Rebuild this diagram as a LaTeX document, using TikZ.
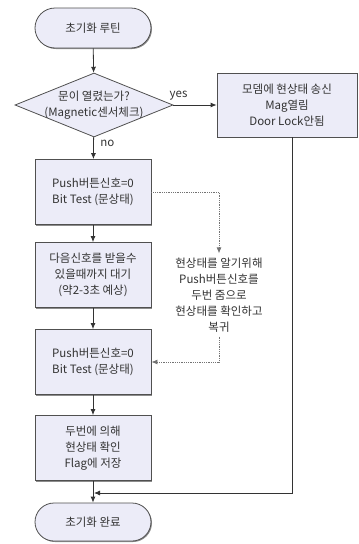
\documentclass[tikz,border=0pt]{standalone}
\usepackage{fontspec}
\setmainfont{Noto Sans CJK KR}
\usetikzlibrary{arrows.meta,shapes.geometric,shapes.misc,shadows}
\definecolor{boxfill}{RGB}{236,236,248}
\definecolor{linegray}{RGB}{80,80,80}

\begin{document}
\begin{tikzpicture}[x=1pt, y=-1pt, >={Latex[length=6pt,width=5pt]}, line width=0.8pt,
	every node/.style={font=\fontsize{11.5}{16}\selectfont, align=center, text=black!80},
	proc/.style={draw=linegray, fill=boxfill, minimum width=116pt, minimum height=65pt, inner sep=0pt,
		drop shadow={shadow xshift=1pt, shadow yshift=-1pt, fill=black!45, opacity=1}},
	term/.style={proc, rounded rectangle, minimum height=40pt},
	decide/.style={draw=linegray, fill=boxfill, diamond, minimum width=158pt, minimum height=64pt, inner sep=0pt},
	flow/.style={draw=black!80, ->},
	hint/.style={draw=black!55, densely dotted, ->}]
	\useasboundingbox (0,0) rectangle (359,544);
	
	% 1. 시작과 판단
	\node[term] (start) at (93,28) {초기화 루틴};
	\node[decide] (dec) at (94,105) {};
	\node (decTxt) at (94,105) {문이 열렸는가?\\(Magnetic센서체크)};
	\node[proc, minimum width=140pt, minimum height=64pt] (rbox) at (287,105) {모뎀에 현상태 송신\\Mag열림\\Door Lock안됨};
	
	% 2. 처리 상자
	\node[proc] (b1) at (93,192) {Push버튼신호=0\\Bit Test (문상태)};
	\node[proc] (b2) at (93,275) {다음신호를 받을수\\있을때까지 대기\\(약2-3초 예상)};
	\node[proc] (b3) at (93,362) {Push버튼신호=0\\Bit Test (문상태)};
	\node[proc] (b4) at (93,448) {두번에 의해\\현상태 확인\\Flag에 저장};
	\node[term, minimum height=38pt] (finish) at (93,522) {초기화 완료};
	
	% 3. 설명
	\node[inner sep=4pt] (note) at (219,295) {현상태를 알기위해\\Push버튼신호를\\두번 줌으로\\현상태를 확인하고\\복귀};
	
	% 4. 연결선
	\draw[flow] (start) -- (dec);
	\draw[flow] (dec) -- node[pos=0.3, right=3pt] {no} (b1);
	\draw[flow] (dec.east) -- node[pos=0.12, above=1pt] {yes} (rbox.west);
	\draw[flow] (b1) -- (b2);
	\draw[flow] (b2) -- (b3);
	\draw[flow] (b3) -- (b4);
	\draw[flow] (b4) -- (finish);
	\coordinate (rOut) at ([xshift=5pt]rbox.south);
	\coordinate (join) at (93,493);
	\draw[flow] (rOut) |- ([xshift=1pt]join);
	
	% 5. 점선 (설명)
	\draw[hint] (b1.east) -| (note.north);
	\draw[hint] (note.south) |- (b3.east);
\end{tikzpicture}
\end{document}
